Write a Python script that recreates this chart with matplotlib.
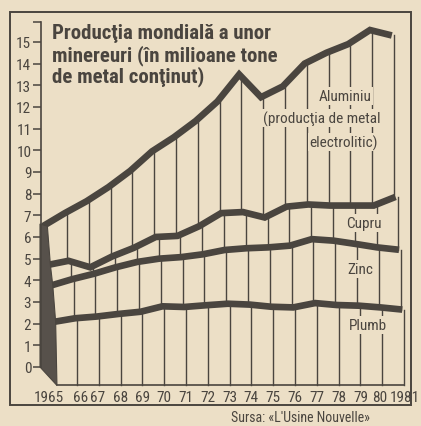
import matplotlib
matplotlib.use("Agg")
import matplotlib.pyplot as plt
from matplotlib import font_manager
from matplotlib.patches import Polygon, Rectangle

# World output, million tonnes of metal content
years = list(range(1965, 1982))
year_labels = ["1965", "66", "67", "68", "69", "70", "71", "72", "73",
               "74", "75", "76", "77", "78", "79", "80", "1981"]
aluminiu = [6.5, 7.1, 7.65, 8.3, 9.05, 9.95, 10.6, 11.35, 12.25,
            13.5, 12.45, 12.95, 14.0, 14.5, 14.9, 15.55, 15.3]
cupru = [4.7, 4.9, 4.6, 5.1, 5.5, 6.0, 6.05, 6.5, 7.1,
         7.15, 6.9, 7.4, 7.5, 7.45, 7.45, 7.45, 7.85]
zinc = [3.75, 4.05, 4.3, 4.6, 4.85, 5.0, 5.07, 5.2, 5.4,
        5.48, 5.52, 5.6, 5.9, 5.83, 5.68, 5.52, 5.41]
plumb = [2.08, 2.25, 2.33, 2.45, 2.55, 2.8, 2.77, 2.85, 2.92,
         2.88, 2.78, 2.75, 2.95, 2.86, 2.83, 2.75, 2.65]

TITLE_LINES = ["Producţia mondială a unor",
               "minereuri (în milioane tone",
               "de metal conţinut)"]

BG = "#ecdfc6"
INK = "#4a453f"

# a narrow face looks closest to the newspaper type
installed = {f.name for f in font_manager.fontManager.ttflist}
FONT = next((n for n in ("Liberation Sans Narrow", "Roboto Condensed",
                         "Open Sans Condensed", "Liberation Sans")
             if n in installed), "DejaVu Sans")
plt.rcParams["font.family"] = [FONT, "DejaVu Sans"]

# scan geometry: value 0 sits at y=368 px, 21.67 px per unit;
# 1965 (back plane) at x=43 px, 21.8 px per year
W, H = 421, 427


def fx(px):
    return 1965 + (px - 43) / 21.8


def fy(py):
    return (368 - py) / 21.67


fig = plt.figure(figsize=(W / 100, H / 100), dpi=100, facecolor=BG)
ax = fig.add_axes([0, 0, 1, 1])
ax.set_facecolor(BG)
ax.set_xlim(fx(0), fx(W))
ax.set_ylim(fy(H), fy(0))

# pseudo-3D: each layer sits a little further right than the one behind it
layers = [aluminiu, cupru, zinc, plumb]
shift = [0.0, 0.17, 0.33, 0.48]
band_shift = [0.1, 0.3, 0.4, 0.56]
FLOOR = -0.85

for i, top in enumerate(layers):
    bottom = layers[i + 1] if i < 3 else [FLOOR] * len(years)
    for k, yr in enumerate(years[1:], start=1):
        ax.plot([yr + band_shift[i]] * 2, [top[k], bottom[k]],
                color=INK, lw=1.0, zorder=1)

for vals, s in zip(layers, shift):
    ax.plot([y + s for y in years], vals, color=INK, lw=4.8,
            solid_joinstyle="miter", solid_capstyle="butt", zorder=3)

# dark side wall on the left
slab = Polygon([(fx(40), aluminiu[0] + 0.1), (years[0] + 0.2, aluminiu[0]),
                (years[0] + 0.34, cupru[0]), (years[0] + 0.45, zinc[0]),
                (years[0] + 0.58, plumb[0]), (years[0] + 0.64, FLOOR),
                (fx(40), 0)],
               closed=True, fc="#57514b", ec=INK, lw=0.8, zorder=4)
ax.add_patch(slab)

# axes
for side in ("top", "right"):
    ax.spines[side].set_visible(False)
ax.spines["left"].set_position(("data", fx(41)))
ax.spines["left"].set_bounds(0, fy(23))
ax.spines["bottom"].set_position(("data", FLOOR))
ax.spines["bottom"].set_bounds(years[0] + 0.64, years[-1] + 0.56)
for side in ("left", "bottom"):
    ax.spines[side].set_color(INK)
    ax.spines[side].set_linewidth(1.2)
    ax.spines[side].set_zorder(5)

ax.set_yticks(range(16))
ax.set_yticks([fy(23)], minor=True)
ax.tick_params(axis="y", which="both", direction="out", length=6, width=1.1,
               pad=1, colors=INK, labelsize=11)

# the typesetter squeezed some labels together
nudge = {"1965": -0.3, "66": 0.15, "67": -0.05, "80": -0.1, "1981": 0.05}
ax.set_xticks([y + 0.56 + nudge.get(lab, 0) for y, lab in zip(years, year_labels)],
              year_labels)
ax.tick_params(axis="x", length=0, pad=3.5, colors=INK, labelsize=11)

# titles and layer names
for line, base in zip(TITLE_LINES, (39, 61, 82)):
    fig.text(52 / W, 1 - base / H, line, fontsize=15, fontweight="bold",
             color=INK, va="baseline", ha="left")

box = dict(boxstyle="square,pad=0.12", fc=BG, ec="none")
for txt, cx, cy in [("Aluminiu", 345, 97), ("(producţia de metal", 322, 119),
                    ("electrolitic)", 344, 143), ("Cupru", 364, 224),
                    ("Zinc", 360, 270), ("Plumb", 368, 326)]:
    ax.text(fx(cx), fy(cy), txt, fontsize=11, color=INK, ha="center",
            va="center", bbox=box, zorder=2)

fig.text(300 / W, 1 - 418 / H, "Sursa: «L'Usine Nouvelle»", fontsize=10,
         color=INK, ha="center", va="center")

fig.add_artist(Rectangle((10 / W, 1 - 406 / H), 401 / W, 393 / H,
                         transform=fig.transFigure, fill=False, ec=INK, lw=1.4))

fig.savefig("out.png", dpi=100, facecolor=BG)
